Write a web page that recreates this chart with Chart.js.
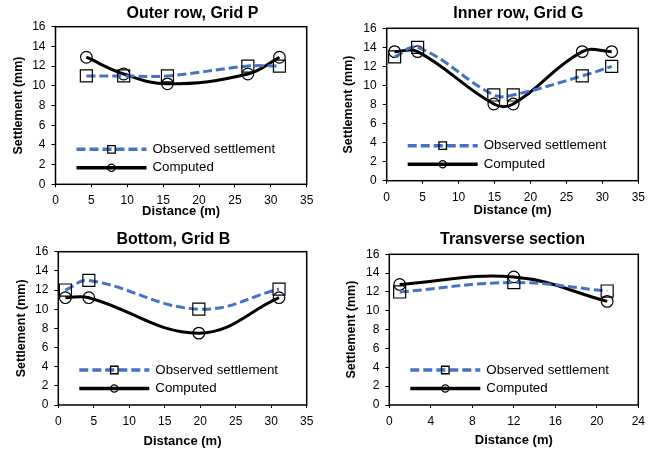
<!DOCTYPE html>
<html>
<head>
<meta charset="utf-8">
<script src="https://cdn.jsdelivr.net/npm/chart.js@4/dist/chart.umd.min.js"></script>
<style>
  html, body { margin: 0; padding: 0; background: #fff; }
  #page { position: relative; width: 661px; height: 452px; background: #fff; }
  #page canvas { position: absolute; }
</style>
</head>
<body>
<div id="page">
  <canvas id="chartP" style="left:0;top:0" width="330" height="225"></canvas>
  <canvas id="chartG" style="left:330px;top:0" width="331" height="225"></canvas>
  <canvas id="chartB" style="left:0;top:225px" width="330" height="227"></canvas>
  <canvas id="chartT" style="left:330px;top:225px" width="331" height="227"></canvas>
</div>
<script>
"use strict";

// Outer row, Grid P
const distP = [4.3, 9.5, 15.6, 26.8, 31.2];
const observedP = [11, 11, 11, 12, 12];
const computedP = [12.9, 11.2, 10.2, 11.2, 12.9];

// Inner row, Grid G
const distG = [1.1, 4.3, 14.9, 17.6, 27.2, 31.3];
const observedG = [13, 14, 9, 9, 11, 12];
const computedG = [13.55, 13.55, 8.05, 8.05, 13.55, 13.55];

// Bottom, Grid B
const distB = [1, 4.3, 19.8, 31.1];
const observedB = [12, 13, 10, 12.1];
const computedB = [11.2, 11.2, 7.5, 11.2];

// Transverse section
const distT = [1, 12, 21];
const observedT = [12, 13, 12.1];
const computedT = [12.8, 13.6, 11];

const seriesLabels = ['Observed settlement', 'Computed'];
const yTicks = { min: 0, max: 16, step: 2 };

const FONT = '"Liberation Sans", Arial, sans-serif';
const BLUE = '#4472C4';

// draws the box round the plot area
const plotBox = {
  id: 'plotBox',
  beforeDatasetsDraw(chart) {
    const { ctx, chartArea: a } = chart;
    ctx.save();
    ctx.strokeStyle = '#000';
    ctx.lineWidth = 1.5;
    ctx.strokeRect(a.left, a.top, a.right - a.left, a.bottom - a.top);
    ctx.restore();
  }
};

// chart title at a fixed spot + legend inside the plot
const extras = {
  id: 'extras',
  afterDraw(chart, args, opts) {
    const { ctx, chartArea: a } = chart;
    ctx.save();
    ctx.fillStyle = '#000';
    ctx.font = 'bold 16px ' + FONT;
    ctx.textAlign = 'center';
    ctx.textBaseline = 'middle';
    ctx.fillText(opts.title, opts.titleX, opts.titleY);

    chart.data.datasets.forEach((ds, i) => {
      const y = a.bottom - opts.rows[i];
      ctx.strokeStyle = ds.borderColor;
      ctx.lineWidth = 3.5;
      ctx.setLineDash(ds.borderDash || []);
      ctx.beginPath();
      ctx.moveTo(a.left + opts.lineStart, y);
      ctx.lineTo(a.left + opts.lineEnd, y);
      ctx.stroke();
      ctx.setLineDash([]);
      ctx.strokeStyle = '#000';
      ctx.lineWidth = 1.3;
      ctx.fillStyle = 'rgba(0,0,0,0)';
      Chart.helpers.drawPoint(ctx, {
        pointStyle: ds.pointStyle,
        radius: ds.pointStyle === 'rect' ? 5.3 : 3.6,
        borderWidth: 1.3,
        rotation: 0
      }, a.left + (opts.lineStart + opts.lineEnd) / 2, y);
      ctx.fillStyle = '#000';
      ctx.font = '13.3px ' + FONT;
      ctx.textAlign = 'left';
      ctx.fillText(ds.label, a.left + opts.textX, y);
    });
    ctx.restore();
  }
};

const toPoints = (xs, ys) => xs.map((x, i) => ({ x, y: ys[i] }));

const drawPanel = (p) => {
  const canvas = document.getElementById(p.id);
  const W = canvas.width, H = canvas.height;
  new Chart(canvas, {
    type: 'line',
    data: {
      datasets: [{
        label: seriesLabels[0],
        data: toPoints(p.dist, p.observed),
        borderColor: BLUE,
        borderWidth: 3,
        borderDash: [9, 4],
        pointStyle: 'rect',
        pointRadius: 8.5,
        pointBorderColor: '#000',
        pointBorderWidth: 1.2,
        pointBackgroundColor: 'rgba(0,0,0,0)',
        tension: 0.4
      }, {
        label: seriesLabels[1],
        data: toPoints(p.dist, p.computed),
        borderColor: '#000',
        borderWidth: 3,
        pointStyle: 'circle',
        pointRadius: 5.8,
        pointBorderColor: '#000',
        pointBorderWidth: 1.2,
        pointBackgroundColor: 'rgba(0,0,0,0)',
        tension: 0.4
      }]
    },
    options: {
      responsive: false,
      animation: false,
      devicePixelRatio: 1,
      events: [],
      layout: { padding: { left: 0, top: p.area.top, right: W - p.area.right, bottom: 0 } },
      scales: {
        x: {
          type: 'linear',
          min: 0, max: p.xMax,
          grid: { display: true, drawOnChartArea: false, drawTicks: true, tickLength: 3, color: '#000' },
          border: { display: false },
          ticks: { stepSize: p.xStep, padding: 6.5, color: '#000', font: { family: FONT, size: 12 } },
          title: { display: true, text: 'Distance (m)', color: '#000',
                   font: { family: FONT, size: 13, weight: 'bold' },
                   padding: { top: 0, bottom: p.xTitlePad } },
          afterFit: (scale) => { scale.height = H - p.area.bottom; }
        },
        y: {
          min: yTicks.min, max: yTicks.max,
          grid: { display: true, drawOnChartArea: false, drawTicks: true, tickLength: 4, color: '#000' },
          border: { display: false },
          ticks: { stepSize: yTicks.step, padding: 6, color: '#000', font: { family: FONT, size: 12 } },
          title: { display: true, text: 'Settlement (mm)', color: '#000',
                   font: { family: FONT, size: 12.5, weight: 'bold' },
                   padding: { top: p.yTitlePad, bottom: 0 } },
          afterFit: (scale) => { scale.width = p.area.left; }
        }
      },
      plugins: {
        legend: { display: false },
        tooltip: { enabled: false },
        extras: {
          title: p.title, titleX: p.titleX, titleY: p.titleY,
          lineStart: 21, lineEnd: 91, textX: 97, rows: [35, 16.5]
        }
      }
    },
    plugins: [plotBox, extras]
  });
};

const panels = [
  { id: 'chartP', title: 'Outer row, Grid P', dist: distP, observed: observedP, computed: computedP,
    xMax: 35, xStep: 5, area: { left: 55.5, top: 26.7, right: 306.7, bottom: 184.3 },
    titleX: 192.5, titleY: 13.3, xTitlePad: 5.5, yTitlePad: 11.5 },
  { id: 'chartG', title: 'Inner row, Grid G', dist: distG, observed: observedG, computed: computedG,
    xMax: 35, xStep: 5, area: { left: 56.7, top: 28.3, right: 308.3, bottom: 180.7 },
    titleX: 188.3, titleY: 13.3, xTitlePad: 6.5, yTitlePad: 11.5 },
  { id: 'chartB', title: 'Bottom, Grid B', dist: distB, observed: observedB, computed: computedB,
    xMax: 35, xStep: 5, area: { left: 58.3, top: 26.7, right: 306.7, bottom: 180 },
    titleX: 173.3, titleY: 15, xTitlePad: 3.2, yTitlePad: 14.2 },
  { id: 'chartT', title: 'Transverse section', dist: distT, observed: observedT, computed: computedT,
    xMax: 24, xStep: 4, area: { left: 59.3, top: 29.3, right: 308.3, bottom: 180 },
    titleX: 182.5, titleY: 15, xTitlePad: 4.2, yTitlePad: 14.2 }
];

panels.forEach(drawPanel);
</script>
</body>
</html>
